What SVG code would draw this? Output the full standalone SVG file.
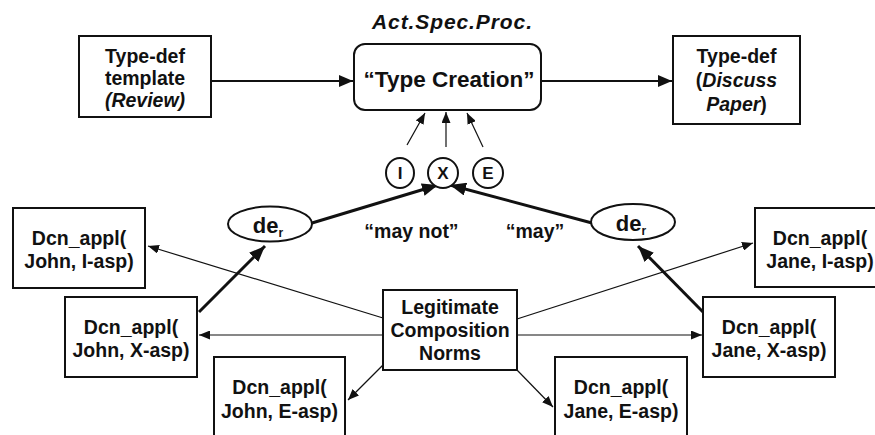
<svg xmlns="http://www.w3.org/2000/svg" width="875" height="435" viewBox="0 0 875 435">
<style>
text{font-family:"Liberation Sans",Arial,sans-serif;font-weight:bold;fill:#111;text-anchor:middle}
.t19{font-size:19.5px}
.box{fill:#fff;stroke:#111;stroke-width:2}
.thin{stroke:#111;stroke-width:1.2;fill:none}
.med{stroke:#111;stroke-width:2.2;fill:none}
.thick{stroke:#111;stroke-width:3;fill:none}
.it{font-style:italic}
</style>
<defs>
<marker id="aThin" markerUnits="userSpaceOnUse" markerWidth="11" markerHeight="9" refX="11" refY="4.5" orient="auto"><path d="M0,0 L11,4.5 L0,9 z" fill="#111"/></marker>
<marker id="aMed" markerUnits="userSpaceOnUse" markerWidth="14" markerHeight="12" refX="14" refY="6" orient="auto"><path d="M0,0 L14,6 L0,12 z" fill="#111"/></marker>
<marker id="aThick" markerUnits="userSpaceOnUse" markerWidth="16" markerHeight="13" refX="16" refY="6.5" orient="auto"><path d="M0,0 L16,6.5 L0,13 z" fill="#111"/></marker>
</defs>
<rect width="875" height="435" fill="#fff"/>

<text id="title" x="452" y="29" class="it" font-size="21" textLength="160" lengthAdjust="spacing">Act.Spec.Proc.</text>

<g id="connectors">
<line class="med" x1="211" y1="81" x2="353" y2="81" marker-end="url(#aMed)"/>
<line class="med" x1="541" y1="81" x2="672" y2="81" marker-end="url(#aMed)"/>
<line class="thin" x1="407" y1="145" x2="425" y2="113" marker-end="url(#aThin)"/>
<line class="thin" x1="446" y1="147" x2="446" y2="112" marker-end="url(#aThin)"/>
<line class="thin" x1="483" y1="147" x2="467" y2="113" marker-end="url(#aThin)"/>
<line class="thick" x1="312" y1="223" x2="438" y2="185" marker-end="url(#aThick)"/>
<line class="thick" x1="592" y1="223" x2="450" y2="185" marker-end="url(#aThick)"/>
<line class="thick" x1="199" y1="312" x2="265" y2="246" marker-end="url(#aThick)"/>
<line class="thick" x1="703" y1="312" x2="638" y2="246" marker-end="url(#aThick)"/>
<line class="thin" x1="383" y1="318" x2="148" y2="246" marker-end="url(#aThin)"/>
<line class="thin" x1="383" y1="335" x2="199" y2="335" marker-end="url(#aThin)"/>
<line class="thin" x1="383" y1="365" x2="348" y2="400" marker-end="url(#aThin)"/>
<line class="thin" x1="517" y1="319" x2="753" y2="243" marker-end="url(#aThin)"/>
<line class="thin" x1="517" y1="335" x2="702" y2="335" marker-end="url(#aThin)"/>
<line class="thin" x1="517" y1="370" x2="553" y2="407" marker-end="url(#aThin)"/>
</g>

<g id="typedef-template">
<rect class="box" x="79" y="36" width="132" height="81"/>
<text class="t19" x="145" y="63">Type-def</text>
<text class="t19" x="145" y="85">template</text>
<text class="t19 it" x="145" y="107">(Review)</text>
</g>

<g id="type-creation">
<rect class="box" x="354" y="44" width="187" height="66" rx="11"/>
<text x="449" y="87" font-size="22.5">“Type Creation”</text>
</g>

<g id="typedef-paper">
<rect class="box" x="673" y="36" width="127" height="88"/>
<text class="t19" x="736.5" y="63">Type-def</text>
<text class="t19" x="736.5" y="87">(<tspan class="it">Discuss</tspan></text>
<text class="t19" x="736.5" y="111"><tspan class="it">Paper</tspan>)</text>
</g>

<g id="circle-I"><ellipse cx="400" cy="173" rx="14" ry="15" class="box" stroke-width="1.5"/><text x="400" y="179" font-size="17">I</text></g>
<g id="circle-X"><ellipse cx="443" cy="173" rx="15" ry="15" class="box" stroke-width="1.5"/><text x="443" y="179" font-size="17">X</text></g>
<g id="circle-E"><ellipse cx="488" cy="173" rx="15" ry="15" class="box" stroke-width="1.5"/><text x="488" y="179" font-size="17">E</text></g>

<g id="der-left"><ellipse cx="270" cy="224" rx="42" ry="17.5" class="box" stroke-width="1.5"/><text x="268" y="233" font-size="22">de<tspan font-size="12" dy="4">r</tspan></text></g>
<g id="der-right"><ellipse cx="633" cy="222" rx="42" ry="18" class="box" stroke-width="1.5"/><text x="631" y="231" font-size="22">de<tspan font-size="12" dy="4">r</tspan></text></g>

<text id="may-not" class="t19" x="411.5" y="238">“may not”</text>
<text id="may" class="t19" x="535" y="238">“may”</text>

<g id="john-i"><rect class="box" x="13" y="208" width="132" height="80"/><text class="t19" x="79" y="245">Dcn_appl(</text><text class="t19" x="79" y="268">John, I-asp)</text></g>
<g id="john-x"><rect class="box" x="65" y="297" width="132" height="80"/><text class="t19" x="131" y="334">Dcn_appl(</text><text class="t19" x="131" y="357">John, X-asp)</text></g>
<g id="john-e"><rect class="box" x="214" y="357" width="131" height="90"/><text class="t19" x="279.5" y="394">Dcn_appl(</text><text class="t19" x="279.5" y="418">John, E-asp)</text></g>
<g id="jane-i"><rect class="box" x="755" y="208" width="132" height="79"/><text class="t19" x="820" y="245">Dcn_appl(</text><text class="t19" x="820" y="268">Jane, I-asp)</text></g>
<g id="jane-x"><rect class="box" x="703" y="297" width="132" height="80"/><text class="t19" x="769" y="334">Dcn_appl(</text><text class="t19" x="769" y="357">Jane, X-asp)</text></g>
<g id="jane-e"><rect class="box" x="555" y="357" width="132" height="90"/><text class="t19" x="621" y="394">Dcn_appl(</text><text class="t19" x="621" y="418">Jane, E-asp)</text></g>

<g id="legit"><rect class="box" x="383" y="290" width="134" height="80" stroke-width="3"/><text class="t19" x="450" y="314">Legitimate</text><text class="t19" x="450" y="337">Composition</text><text class="t19" x="450" y="360">Norms</text></g>
</svg>
